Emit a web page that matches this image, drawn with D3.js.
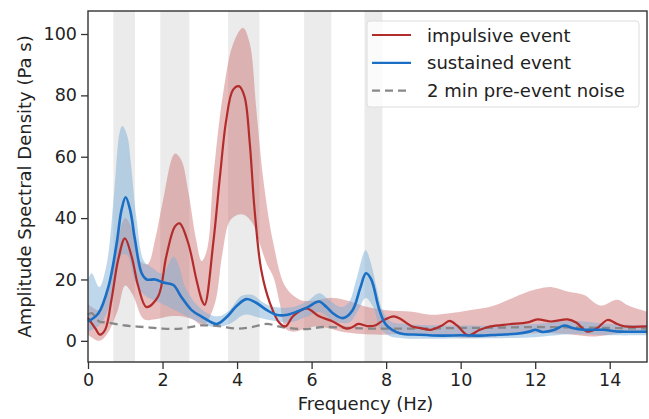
<!DOCTYPE html>
<html>
<head>
<meta charset="utf-8">
<script src="https://cdn.jsdelivr.net/npm/d3@7"></script>
<style>
  body { margin: 0; background: #fff; }
  svg text { font-family: "DejaVu Sans", sans-serif; fill: #222; }
</style>
</head>
<body>
<div id="chart"></div>
<script>
// frequency bands shaded in grey (Hz)
var bandStart = [0.68, 1.94, 3.76, 5.8, 7.42];
var bandEnd   = [1.26, 2.72, 4.6, 6.53, 7.9];

// impulsive event: mean curve
var impFreq = [0, 0.2, 0.32, 0.46, 0.63, 0.81, 0.99, 1.17, 1.35, 1.57, 1.88, 2.1, 2.33, 2.46, 2.69, 2.91, 3.05, 3.13, 3.36, 3.54, 3.71, 3.89, 4.05, 4.2, 4.34, 4.47, 4.65, 4.88, 5.14, 5.3, 5.5, 5.86, 6.2, 6.57, 6.93, 7.1, 7.25, 7.5, 7.7, 7.9, 8.2, 8.4, 8.7, 8.9, 9.2, 9.5, 9.7, 9.9, 10.2, 10.5, 10.8, 11.3, 11.8, 12.06, 12.42, 12.87, 13.1, 13.4, 13.65, 13.94, 14.2, 14.4, 15];
var impMean = [7.5, 4, 2, 3.6, 13.4, 26.4, 33.4, 27.5, 17.7, 11, 14.4, 27.5, 37.2, 38.3, 31.8, 19.9, 13.4, 11.7, 31.8, 53.5, 72, 81.8, 83, 79.6, 64.5, 42.7, 23, 12.4, 5.8, 4.7, 8, 10.6, 8, 6.3, 4, 4.5, 5.5, 4.8, 5, 6.5, 8, 7, 4.7, 4.2, 3.6, 5, 6.5, 5, 1.8, 3.5, 4.7, 5.4, 6, 7, 6.3, 7, 6, 3, 4, 6.8, 5.5, 4.7, 4.7];
// impulsive event: spread
var impHiFreq = [0, 0.3, 0.5, 0.8, 1.0, 1.2, 1.4, 1.6, 1.8, 2.0, 2.33, 2.5, 2.7, 2.9, 3.05, 3.2, 3.36, 3.63, 3.9, 4.16, 4.34, 4.52, 4.7, 4.97, 5.3, 5.68, 6.0, 6.57, 7.0, 7.5, 8.0, 8.7, 9.2, 9.7, 10.23, 10.77, 11.3, 11.8, 12.1, 12.45, 12.9, 13.3, 13.75, 14.2, 14.5, 15];
var impHi = [12, 10, 16, 33, 40, 36, 26, 25, 33, 45, 61, 59, 48, 33, 26, 30, 53, 81, 97, 102, 97, 75, 53, 32, 17.6, 13.4, 13, 14, 13, 11, 10, 9.5, 8.5, 9, 10, 11, 13.5, 16, 17, 17.5, 16, 15, 11.5, 13.4, 11.5, 9.5];
var impLoFreq = [0, 0.3, 0.5, 0.8, 1.0, 1.2, 1.5, 1.8, 2.2, 2.5, 2.8, 3.1, 3.4, 3.6, 3.8, 4.0, 4.2, 4.43, 4.6, 4.8, 4.97, 5.15, 5.3, 5.5, 6.0, 6.2, 7.0, 7.9, 8.7, 10.2, 11, 12, 13, 13.5, 14, 15];
var impLo = [2, 0, 2, 10, 18, 15, 7, 7, 8, 8, 7, 5, 12, 28, 39, 41, 41, 38, 32, 25, 21, 12, 4, 3, 4.5, 4.7, 2.6, 2, 2.4, 1, 1.5, 2.5, 2, 1.4, 2, 3.6];

// sustained event: mean curve
var susFreq = [0, 0.28, 0.55, 0.77, 0.9, 1.01, 1.13, 1.26, 1.44, 1.57, 1.8, 2.02, 2.29, 2.5, 2.78, 3.05, 3.45, 3.7, 4.0, 4.25, 4.5, 4.8, 5.05, 5.32, 5.6, 5.9, 6.2, 6.4, 6.57, 6.84, 7.1, 7.3, 7.46, 7.6, 7.82, 8.0, 8.36, 8.9, 9.5, 10, 10.5, 11, 11.5, 11.84, 12.0, 12.2, 12.5, 12.78, 13, 13.3, 13.8, 14.3, 15];
var susMean = [6.3, 9, 17.7, 31.8, 42.7, 46.8, 42.7, 33, 22, 20, 20, 19, 18.2, 14.4, 10, 7.9, 5.5, 7.5, 11.5, 13.6, 12.5, 10, 8.5, 8.4, 9.5, 11, 12.8, 11, 9, 7.4, 10, 17, 22, 20, 10, 5.2, 2.5, 2, 1.7, 1.8, 1.7, 2, 2.3, 3, 3.6, 2.9, 3.5, 5, 4.2, 3.6, 3.6, 3, 3];
// sustained event: spread
var susHiFreq = [0, 0.1, 0.3, 0.5, 0.7, 0.85, 0.92, 1.05, 1.15, 1.3, 1.5, 1.7, 2.0, 2.3, 2.45, 2.6, 2.9, 3.2, 3.5, 3.8, 4.1, 4.4, 4.7, 5.0, 5.5, 5.9, 6.2, 6.5, 6.8, 7.0, 7.2, 7.45, 7.6, 7.75, 7.9, 8.1, 8.5, 10, 11, 12, 13, 14, 15];
var susHi = [20, 22, 17.5, 25, 48, 68, 70, 67, 58, 40, 26, 24, 22, 27.5, 24, 17.7, 12, 9, 8, 10, 14.5, 15, 12.5, 11, 11, 13, 15.5, 13, 11, 12.5, 20, 29.5, 25, 17, 10, 6.5, 5.5, 5, 5, 5.5, 6.5, 5.5, 5];
var susLoFreq = [0, 0.3, 0.5, 0.7, 0.9, 1.05, 1.25, 1.5, 2.0, 2.5, 3.0, 3.4, 3.8, 4.2, 4.6, 5.0, 5.4, 5.9, 6.2, 6.6, 7.0, 7.25, 7.45, 7.65, 7.85, 8.1, 8.5, 10, 12, 13, 14, 15];
var susLo = [3, 5, 9, 17, 28, 28, 20, 15, 12, 9, 6, 4.5, 5.5, 8.5, 7.5, 6.5, 6, 8, 9.5, 6.5, 6, 10, 14, 11, 4, 1.5, 0.8, 0.8, 1.2, 2.2, 1.8, 1.8];

// 2 min pre-event noise
var noiseFreq = [0, 0.1, 0.3, 0.5, 1.0, 1.5, 2.0, 2.5, 3.0, 3.5, 4.0, 4.4, 4.8, 5.2, 5.8, 6.3, 7.0, 7.5, 8, 9, 10, 11, 12, 13, 14, 15];
var noise = [8.5, 9, 6.3, 6, 5, 4.5, 4, 4, 5, 4.8, 4, 4.5, 5.5, 4.5, 3.8, 4.5, 4.2, 4, 4, 4, 4.2, 4.3, 4.5, 4.4, 4.2, 4];

var xTicks = [0, 2, 4, 6, 8, 10, 12, 14];
var yTicks = [0, 20, 40, 60, 80, 100];
var legendLabels = ["impulsive event", "sustained event", "2 min pre-event noise"];

var width = 649, height = 419;
var margin = { top: 11, right: 2, bottom: 57, left: 88 };
var w = width - margin.left - margin.right;
var h = height - margin.top - margin.bottom;

var redLine = "#b32c2c", redFill = "#c96a6a";
var blueLine = "#1a6ec4", blueFill = "#7fb0d8";

var svg = d3.select("#chart").append("svg")
  .attr("width", width)
  .attr("height", height);

var g = svg.append("g")
  .attr("transform", "translate(" + margin.left + "," + margin.top + ")");

var x = d3.scaleLinear().domain([0, 15]).range([0, w]);
var y = d3.scaleLinear().domain([-6.9, 107.5]).range([h, 0]);

// grey frequency bands
g.selectAll("rect.band")
  .data(bandStart)
  .enter()
  .append("rect")
  .attr("class", "band")
  .attr("x", function (d) { return x(d); })
  .attr("width", function (d, i) { return x(bandEnd[i]) - x(d); })
  .attr("y", 0)
  .attr("height", h)
  .attr("fill", "#ebebeb");

var line = d3.line()
  .x(function (d) { return x(d[0]); })
  .y(function (d) { return y(d[1]); })
  .curve(d3.curveCatmullRom.alpha(0.5));

function pairs(fs, vs) {
  return fs.map(function (f, i) { return [f, vs[i]]; });
}

// band between a lower and upper curve that do not share knots
function bandPath(hiF, hi, loF, lo) {
  var top = line(pairs(hiF, hi));
  var bottom = line(pairs(loF, lo).reverse());
  return top + "L" + bottom.slice(1) + "Z";
}

g.append("path")
  .attr("d", bandPath(impHiFreq, impHi, impLoFreq, impLo))
  .attr("fill", redFill)
  .attr("fill-opacity", 0.45);

g.append("path")
  .attr("d", bandPath(susHiFreq, susHi, susLoFreq, susLo))
  .attr("fill", blueFill)
  .attr("fill-opacity", 0.5);

g.append("path")
  .attr("d", line(pairs(noiseFreq, noise)))
  .attr("fill", "none")
  .attr("stroke", "#888")
  .attr("stroke-width", 2.3)
  .attr("stroke-dasharray", "8,5");

g.append("path")
  .attr("d", line(pairs(impFreq, impMean)))
  .attr("fill", "none")
  .attr("stroke", redLine)
  .attr("stroke-width", 2.2);

g.append("path")
  .attr("d", line(pairs(susFreq, susMean)))
  .attr("fill", "none")
  .attr("stroke", blueLine)
  .attr("stroke-width", 2.6);

// axes
var xAxis = g.append("g")
  .attr("transform", "translate(0," + h + ")")
  .call(d3.axisBottom(x).tickValues(xTicks).tickFormat(d3.format("d")).tickSize(7).tickPadding(4.5).tickSizeOuter(0));

var yAxis = g.append("g")
  .call(d3.axisLeft(y).tickValues(yTicks).tickFormat(d3.format("d")).tickSize(7).tickPadding(4).tickSizeOuter(0));

[xAxis, yAxis].forEach(function (a) {
  a.selectAll("text").style("font-size", "17.5px").attr("fill", "#222");
  a.selectAll("line").attr("stroke", "#333").attr("stroke-width", 1.3);
  a.select(".domain").remove();
});

// frame round the plot
g.append("rect")
  .attr("width", w)
  .attr("height", h)
  .attr("fill", "none")
  .attr("stroke", "#333")
  .attr("stroke-width", 1.4);

svg.append("text")
  .attr("x", margin.left + w / 2 - 2)
  .attr("y", 410)
  .attr("text-anchor", "middle")
  .style("font-size", "18px")
  .text("Frequency (Hz)");

svg.append("text")
  .attr("transform", "translate(31," + (margin.top + h / 2) + ") rotate(-90)")
  .attr("text-anchor", "middle")
  .style("font-size", "18px")
  .text("Amplitude Spectral Density (Pa s)");

// legend
var legend = svg.append("g");
legend.append("rect")
  .attr("x", 367).attr("y", 21)
  .attr("width", 272).attr("height", 86)
  .attr("rx", 3)
  .attr("fill", "#fff").attr("fill-opacity", 0.8)
  .attr("stroke", "#ddd");

var legendColors = [redLine, blueLine, "#888"];
var legendDash = [null, null, "8,5"];
legendLabels.forEach(function (label, i) {
  var cy = 35 + i * 27.8;
  legend.append("line")
    .attr("x1", 372).attr("x2", 411)
    .attr("y1", cy).attr("y2", cy)
    .attr("stroke", legendColors[i])
    .attr("stroke-width", 2.2)
    .attr("stroke-dasharray", legendDash[i]);
  legend.append("text")
    .attr("x", 427).attr("y", cy + 6.5)
    .style("font-size", "18px")
    .text(label);
});
</script>
</body>
</html>
